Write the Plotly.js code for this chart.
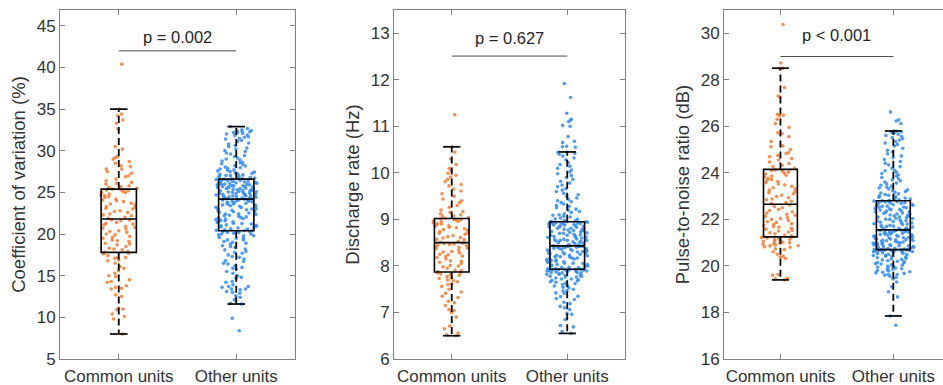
<!DOCTYPE html>
<html>
<head>
<meta charset="utf-8">
<script src="https://cdn.plot.ly/plotly-3.0.1.min.js"></script>
<style>html,body{margin:0;padding:0;background:#fff;}#chart{width:943px;height:385px;}</style>
</head>
<body>
<div id="chart"></div>
<script>
// ---------- data ----------
const categories = ['Common units', 'Other units'];
const yTitles = ['Coefficient of variation (%)', 'Discharge rate (Hz)', 'Pulse-to-noise ratio (dB)'];
const pLabels = ['p = 0.002', 'p = 0.627', 'p < 0.001'];
const pBarY = [42.0, 12.51, 29.0];
const pTextY = [43.7, 12.89, 29.92];

// Coefficient of variation (%)
const cvCommon = [8.0, 9.8, 10.1, 10.4, 10.9, 11.0, 11.1, 12.5, 12.7, 13.4, 13.5, 13.6, 13.8, 14.2, 14.3, 14.5, 14.9, 15.0, 15.3, 15.6, 15.9, 16.1, 16.5, 16.8, 16.9, 17.1, 17.2, 17.2, 17.4, 17.6, 17.7,
  17.8, 17.9, 18.1, 18.2, 18.3, 18.5, 18.7, 18.8, 18.9, 19.1, 19.2, 19.3, 19.5, 19.6, 19.7, 19.9, 20.0, 20.2, 20.3, 20.4, 20.6, 20.7, 20.8, 20.9, 21.1, 21.2, 21.3, 21.4, 21.6, 21.7, 21.7,
  21.9, 22.0, 22.2, 22.3, 22.4, 22.6, 22.7, 22.8, 23.0, 23.1, 23.2, 23.3, 23.5, 23.6, 23.7, 23.9, 24.0, 24.1, 24.2, 24.4, 24.5, 24.6, 24.7, 24.8, 25.0, 25.0, 25.1, 25.2, 25.3, 25.3, 25.4,
  25.5, 25.6, 25.7, 25.8, 26.0, 26.1, 26.2, 26.4, 26.6, 26.9, 27.0, 27.3, 27.5, 27.8, 27.8, 28.1, 28.2, 28.5, 28.7, 29.0, 29.2, 29.3, 30.2, 30.5, 32.6, 33.3, 33.7, 34.2, 34.4, 35.0, 40.4];
const cvOther = [8.4, 9.9, 11.6, 11.7, 12.1, 12.4, 12.6, 12.9, 13.0, 13.1, 13.3, 13.4, 13.4, 13.6, 13.7, 13.7, 13.9, 14.2, 14.3, 14.7, 14.8, 15.0, 15.3, 15.5, 15.8, 15.9, 16.0, 16.2, 16.4, 16.5, 16.7, 16.8, 17.0, 17.2, 17.3, 17.5, 17.7, 17.8, 17.9, 18.1, 18.2, 18.4, 18.5, 18.6, 18.8, 18.9, 19.0, 19.1, 19.3, 19.3, 19.5, 19.5, 19.6, 19.8, 19.8, 19.9, 20.0, 20.0, 20.1, 20.2, 20.2, 20.3, 20.3, 20.4, 20.4,
  20.45, 20.5, 20.6, 20.63, 20.72, 20.8, 20.84, 20.93, 21.0, 21.06, 21.1, 21.2, 21.27, 21.3, 21.4, 21.46, 21.53, 21.6, 21.65, 21.74, 21.8, 21.87, 21.94, 22.0, 22.06, 22.14, 22.2, 22.25, 22.35, 22.4, 22.44, 22.53, 22.6, 22.67, 22.71, 22.8, 22.86, 22.91, 23.0, 23.04, 23.1, 23.18, 23.21, 23.3, 23.34, 23.4, 23.47, 23.5, 23.58, 23.62, 23.67, 23.73, 23.79, 23.82, 23.88, 23.93, 23.95, 24.0, 24.05, 24.07, 24.11, 24.13, 24.16, 24.19, 24.2,
  24.23, 24.26, 24.31, 24.35, 24.37, 24.42, 24.47, 24.5, 24.52, 24.58, 24.6, 24.63, 24.69, 24.7, 24.76, 24.78, 24.82, 24.87, 24.9, 24.92, 24.98, 25.0, 25.05, 25.07, 25.11, 25.16, 25.18, 25.21, 25.27, 25.3, 25.32, 25.38, 25.4, 25.45, 25.47, 25.51, 25.56, 25.59, 25.61, 25.67, 25.7, 25.72, 25.78, 25.8, 25.83, 25.88, 25.9, 25.95, 25.96, 26.0, 26.05, 26.07, 26.1, 26.16, 26.18, 26.23, 26.25, 26.31, 26.33, 26.39, 26.41, 26.45, 26.51, 26.55, 26.58,
  26.62, 26.65, 26.71, 26.74, 26.8, 26.86, 26.9, 26.94, 27.01, 27.04, 27.1, 27.17, 27.21, 27.29, 27.34, 27.43, 27.49, 27.58, 27.66, 27.7, 27.81, 27.87, 27.96, 28.04, 28.16, 28.24, 28.36, 28.44, 28.56, 28.63, 28.77, 28.88, 29.02, 29.13, 29.31, 29.44, 29.62, 29.74, 29.91, 30.03, 30.22, 30.33, 30.52, 30.64, 30.81, 30.93, 31.12, 31.23, 31.41, 31.48, 31.62, 31.69, 31.82, 31.88, 32.01, 32.08, 32.16, 32.19, 32.27, 32.3, 32.36, 32.42, 32.51, 32.68, 32.9];
const cvLower = [8.0, 11.6];
const cvQ1 = [17.8, 20.4];
const cvMedian = [21.8, 24.2];
const cvQ3 = [25.4, 26.6];
const cvUpper = [35.0, 32.9];

// Discharge rate (Hz)
const rateCommon = [6.5, 6.52, 6.56, 6.65, 6.71, 6.9, 7.0, 7.04, 7.06, 7.15, 7.21, 7.24, 7.32, 7.35, 7.41, 7.44, 7.5, 7.56, 7.6, 7.61, 7.66, 7.68, 7.7, 7.73, 7.74, 7.77, 7.8, 7.81, 7.83, 7.85, 7.86,
  7.88, 7.9, 7.91, 7.95, 7.98, 8.0, 8.01, 8.05, 8.08, 8.1, 8.11, 8.15, 8.18, 8.2, 8.21, 8.24, 8.25, 8.28, 8.3, 8.31, 8.34, 8.37, 8.38, 8.4, 8.41, 8.43, 8.45, 8.46, 8.47, 8.48, 8.49,
  8.51, 8.53, 8.56, 8.57, 8.6, 8.61, 8.63, 8.65, 8.68, 8.7, 8.71, 8.74, 8.77, 8.78, 8.8, 8.82, 8.83, 8.85, 8.86, 8.88, 8.9, 8.91, 8.93, 8.95, 8.96, 8.97, 8.98, 9.0, 9.0, 9.01, 9.02,
  9.04, 9.07, 9.08, 9.1, 9.12, 9.15, 9.17, 9.2, 9.26, 9.3, 9.36, 9.4, 9.44, 9.5, 9.55, 9.61, 9.65, 9.72, 9.75, 9.81, 9.86, 9.91, 9.95, 9.99, 10.05, 10.1, 10.18, 10.3, 10.45, 10.56, 11.25];
const rateOther = [6.55, 6.59, 6.69, 6.72, 6.85, 6.96, 6.98, 7.06, 7.1, 7.13, 7.19, 7.22, 7.28, 7.3, 7.34, 7.35, 7.41, 7.42, 7.46, 7.47, 7.5, 7.53, 7.54, 7.57, 7.58, 7.6, 7.62, 7.63, 7.65, 7.66, 7.68, 7.69, 7.7, 7.72, 7.72, 7.74, 7.76, 7.76, 7.78, 7.78, 7.8, 7.8, 7.82, 7.82, 7.83, 7.85, 7.85, 7.86, 7.86, 7.87, 7.88, 7.88, 7.89, 7.89, 7.9, 7.9, 7.91, 7.91, 7.92, 7.92, 7.92, 7.93, 7.93, 7.93, 7.93,
  7.94, 7.94, 7.96, 7.97, 7.97, 7.99, 8.0, 8.0, 8.02, 8.03, 8.03, 8.05, 8.06, 8.06, 8.08, 8.09, 8.1, 8.1, 8.12, 8.13, 8.13, 8.15, 8.16, 8.17, 8.17, 8.19, 8.2, 8.2, 8.22, 8.23, 8.23, 8.25, 8.26, 8.26, 8.28, 8.28, 8.29, 8.3, 8.31, 8.32, 8.33, 8.33, 8.34, 8.35, 8.36, 8.36, 8.37, 8.38, 8.38, 8.39, 8.4, 8.4, 8.41, 8.41, 8.42, 8.42, 8.42, 8.42, 8.43, 8.43,
  8.44, 8.45, 8.46, 8.48, 8.48, 8.5, 8.51, 8.52, 8.53, 8.54, 8.55, 8.55, 8.55, 8.56, 8.57, 8.58, 8.6, 8.61, 8.62, 8.62, 8.63, 8.64, 8.66, 8.66, 8.67, 8.68, 8.7, 8.7, 8.71, 8.72, 8.73, 8.74, 8.76, 8.76, 8.77, 8.78, 8.79, 8.8, 8.81, 8.81, 8.83, 8.84, 8.84, 8.85, 8.86, 8.87, 8.88, 8.88, 8.89, 8.9, 8.9, 8.91, 8.91, 8.92, 8.93, 8.93, 8.94, 8.94, 8.95, 8.95,
  8.96, 8.97, 8.98, 9.0, 9.01, 9.03, 9.05, 9.07, 9.09, 9.1, 9.12, 9.15, 9.17, 9.2, 9.22, 9.25, 9.28, 9.3, 9.33, 9.36, 9.38, 9.4, 9.43, 9.46, 9.5, 9.53, 9.56, 9.6, 9.63, 9.66, 9.7, 9.74, 9.78, 9.82, 9.86, 9.9, 9.94, 9.98, 10.02, 10.06, 10.1, 10.14, 10.18, 10.22, 10.28, 10.32, 10.36, 10.4, 10.42, 10.44, 10.45, 10.55, 10.56, 10.57, 10.65, 10.68, 10.78, 11.0, 11.02, 11.1, 11.13, 11.15, 11.28, 11.62, 11.92];
const rateLower = [6.5, 6.55];
const rateQ1 = [7.87, 7.93];
const rateMedian = [8.5, 8.43];
const rateQ3 = [9.02, 8.95];
const rateUpper = [10.56, 10.45];

// Pulse-to-noise ratio (dB)
const pnrCommon = [19.4, 19.45, 19.47, 19.6, 19.63, 20.32, 20.38, 20.41, 20.5, 20.61, 20.7, 20.74, 20.8, 20.82, 20.86, 20.87, 20.9, 20.93, 20.95, 20.98, 21.0, 21.02, 21.05, 21.06, 21.1, 21.13, 21.15, 21.16, 21.2, 21.22, 21.24,
  21.27, 21.3, 21.33, 21.38, 21.42, 21.46, 21.5, 21.53, 21.58, 21.62, 21.66, 21.7, 21.74, 21.78, 21.82, 21.87, 21.9, 21.95, 22.0, 22.04, 22.08, 22.13, 22.18, 22.22, 22.27, 22.32, 22.38, 22.43, 22.5, 22.55, 22.62,
  22.68, 22.72, 22.78, 22.84, 22.88, 22.93, 22.98, 23.04, 23.1, 23.15, 23.2, 23.26, 23.31, 23.36, 23.42, 23.48, 23.52, 23.58, 23.63, 23.68, 23.72, 23.77, 23.82, 23.86, 23.9, 23.95, 23.99, 24.03, 24.07, 24.1, 24.13,
  24.2, 24.26, 24.33, 24.4, 24.47, 24.55, 24.62, 24.69, 24.75, 24.83, 24.87, 25.0, 25.12, 25.16, 25.35, 25.55, 25.69, 25.72, 25.95, 26.12, 26.3, 26.45, 26.48, 26.52, 27.26, 27.3, 27.67, 28.48, 28.5, 28.72, 30.38];
const pnrOther = [17.45, 17.85, 18.67, 18.89, 19.1, 19.31, 19.44, 19.5, 19.56, 19.6, 19.63, 19.64, 19.68, 19.7, 19.73, 19.75, 19.79, 19.8, 19.83, 19.86, 19.88, 19.91, 19.93, 19.95, 19.98, 20.0, 20.03, 20.05, 20.08, 20.1, 20.13, 20.15, 20.18, 20.2, 20.22, 20.26, 20.28, 20.3, 20.33, 20.35, 20.38, 20.4, 20.42, 20.45, 20.46, 20.49, 20.5, 20.53, 20.54, 20.57, 20.58, 20.6, 20.61, 20.62, 20.64, 20.64, 20.66, 20.66, 20.67, 20.68, 20.68, 20.69, 20.69, 20.7, 20.7,
  20.71, 20.71, 20.73, 20.75, 20.76, 20.78, 20.78, 20.8, 20.82, 20.83, 20.84, 20.86, 20.87, 20.88, 20.9, 20.91, 20.92, 20.94, 20.95, 20.97, 20.98, 20.99, 21.01, 21.02, 21.03, 21.05, 21.06, 21.08, 21.09, 21.1, 21.12, 21.13, 21.15, 21.16, 21.17, 21.19, 21.2, 21.21, 21.23, 21.24, 21.26, 21.27, 21.28, 21.3, 21.31, 21.33, 21.34, 21.35, 21.37, 21.38, 21.4, 21.41, 21.42, 21.44, 21.45, 21.46, 21.48, 21.49, 21.5, 21.51, 21.52, 21.53, 21.54, 21.54, 21.55,
  21.57, 21.58, 21.62, 21.63, 21.66, 21.67, 21.7, 21.71, 21.74, 21.75, 21.78, 21.8, 21.81, 21.84, 21.85, 21.88, 21.9, 21.91, 21.94, 21.95, 21.98, 22.0, 22.01, 22.04, 22.05, 22.08, 22.1, 22.11, 22.14, 22.15, 22.18, 22.19, 22.22, 22.23, 22.26, 22.27, 22.3, 22.32, 22.33, 22.36, 22.37, 22.4, 22.42, 22.43, 22.46, 22.47, 22.5, 22.52, 22.53, 22.56, 22.57, 22.6, 22.61, 22.63, 22.65, 22.66, 22.69, 22.7, 22.72, 22.73, 22.75, 22.76, 22.78, 22.79, 22.8,
  22.82, 22.84, 22.87, 22.9, 22.92, 22.95, 22.98, 23.01, 23.04, 23.07, 23.1, 23.13, 23.16, 23.2, 23.23, 23.27, 23.31, 23.35, 23.39, 23.43, 23.47, 23.52, 23.56, 23.61, 23.66, 23.7, 23.75, 23.8, 23.86, 23.91, 23.97, 24.03, 24.09, 24.11, 24.2, 24.27, 24.34, 24.41, 24.49, 24.57, 24.65, 24.73, 24.82, 24.9, 24.97, 25.06, 25.15, 25.22, 25.28, 25.35, 25.41, 25.48, 25.52, 25.56, 25.61, 25.66, 25.7, 25.74, 25.77, 25.79, 25.8, 26.12, 26.23, 26.28, 26.62];
const pnrLower = [19.4, 17.85];
const pnrQ1 = [21.25, 20.7];
const pnrMedian = [22.65, 21.55];
const pnrQ3 = [24.15, 22.8];
const pnrUpper = [28.5, 25.8];

// ---------- styling / layout ----------
const xPos = [1, 2];
const pointColors = ['#F0843F', '#3D90EA'];
const boxWidth = 0.3;
const pointSpreadWidth = 0.36;
const capHalf = 0.075;
const fontFamily = 'Liberation Sans, Arial, Helvetica, sans-serif';
const axisColor = '#808080';
const textColor = '#333333';

const panels = [
  {pts: [cvCommon, cvOther], lo: cvLower, q1: cvQ1, med: cvMedian, q3: cvQ3, hi: cvUpper,
   yrange: [5, 46.9], tick0: 5, dtick: 5, domain: [60 / 943, 295 / 943], xrange: [0.5, 2.5], mirrorY: 'ticks'},
  {pts: [rateCommon, rateOther], lo: rateLower, q1: rateQ1, med: rateMedian, q3: rateQ3, hi: rateUpper,
   yrange: [6, 13.5], tick0: 6, dtick: 1, domain: [394 / 943, 625 / 943], xrange: [0.5, 2.5], mirrorY: 'ticks'},
  {pts: [pnrCommon, pnrOther], lo: pnrLower, q1: pnrQ1, med: pnrMedian, q3: pnrQ3, hi: pnrUpper,
   yrange: [16, 31], tick0: 16, dtick: 2, domain: [724 / 943, 1], xrange: [0.5, 2.44], mirrorY: false}
];

const traces = [];
const annotations = [];
const layout = {
  width: 943, height: 385,
  margin: {l: 0, r: 0, t: 10, b: 26, pad: 0},
  paper_bgcolor: '#ffffff', plot_bgcolor: '#ffffff',
  showlegend: false,
  boxmode: 'overlay',
  font: {family: fontFamily, color: textColor, size: 16},
  hovermode: false
};

panels.forEach((p, i) => {
  const sfx = i === 0 ? '' : String(i + 1);
  const xa = 'x' + sfx, ya = 'y' + sfx;

  // jittered points (library box trace, only the points shown)
  p.pts.forEach((arr, j) => {
    traces.push({
      type: 'box', y: arr, x0: xPos[j], xaxis: xa, yaxis: ya,
      boxpoints: 'all', jitter: 1, pointpos: 0, width: pointSpreadWidth,
      line: {width: 0, color: 'rgba(0,0,0,0)'}, fillcolor: 'rgba(0,0,0,0)',
      marker: {color: pointColors[j], size: 3.6, opacity: 0.9, line: {width: 0}},
      hoverinfo: 'skip'
    });
  });

  // dashed whiskers
  const wx = [], wy = [];
  xPos.forEach((c, j) => {
    wx.push(c, c, null, c, c, null);
    wy.push(p.q3[j], p.hi[j], null, p.q1[j], p.lo[j], null);
  });
  traces.push({type: 'scatter', mode: 'lines', x: wx, y: wy, xaxis: xa, yaxis: ya,
    line: {color: '#000', width: 1.8, dash: '7px,4px'}, hoverinfo: 'skip'});

  // whisker caps
  const cx = [], cy = [];
  xPos.forEach((c, j) => {
    cx.push(c - capHalf, c + capHalf, null, c - capHalf, c + capHalf, null);
    cy.push(p.hi[j], p.hi[j], null, p.lo[j], p.lo[j], null);
  });
  traces.push({type: 'scatter', mode: 'lines', x: cx, y: cy, xaxis: xa, yaxis: ya,
    line: {color: '#000', width: 1.7}, hoverinfo: 'skip'});

  // boxes from precomputed statistics
  traces.push({
    type: 'box', x: xPos, q1: p.q1, median: p.med, q3: p.q3,
    lowerfence: p.q1, upperfence: p.q3, xaxis: xa, yaxis: ya,
    width: boxWidth, whiskerwidth: 0, boxpoints: false,
    line: {color: '#000', width: 1.6}, fillcolor: 'rgba(0,0,0,0)', hoverinfo: 'skip'
  });

  // significance bar
  traces.push({type: 'scatter', mode: 'lines', x: [xPos[0], xPos[1]], y: [pBarY[i], pBarY[i]],
    xaxis: xa, yaxis: ya, line: {color: '#4d4d4d', width: 1}, hoverinfo: 'skip'});

  annotations.push({xref: xa, yref: ya, x: (xPos[0] + xPos[1]) / 2, y: pTextY[i],
    text: pLabels[i], showarrow: false, font: {size: 16.5, color: '#262626', family: fontFamily}});

  layout['xaxis' + sfx] = {
    domain: p.domain, anchor: ya, range: p.xrange,
    tickvals: xPos, ticktext: categories,
    ticks: 'inside', ticklen: 5, tickcolor: axisColor, tickwidth: 1,
    showline: true, linecolor: axisColor, linewidth: 1, mirror: 'ticks',
    showgrid: false, zeroline: false, fixedrange: true, ticklabelstandoff: 2,
    tickfont: {size: 17, color: textColor, family: fontFamily}
  };
  layout['yaxis' + sfx] = {
    domain: [0, 1], anchor: xa, range: p.yrange, tick0: p.tick0, dtick: p.dtick,
    ticks: 'inside', ticklen: 5, tickcolor: axisColor, tickwidth: 1,
    showline: true, linecolor: axisColor, linewidth: 1, mirror: p.mirrorY,
    showgrid: false, zeroline: false, fixedrange: true,
    tickfont: {size: 17, color: textColor, family: fontFamily},
    title: {text: yTitles[i], font: {size: 18.5, color: textColor, family: fontFamily}, standoff: 6}
  };
});
layout.annotations = annotations;

Plotly.newPlot('chart', traces, layout, {displayModeBar: false, staticPlot: true});
</script>
</body>
</html>
